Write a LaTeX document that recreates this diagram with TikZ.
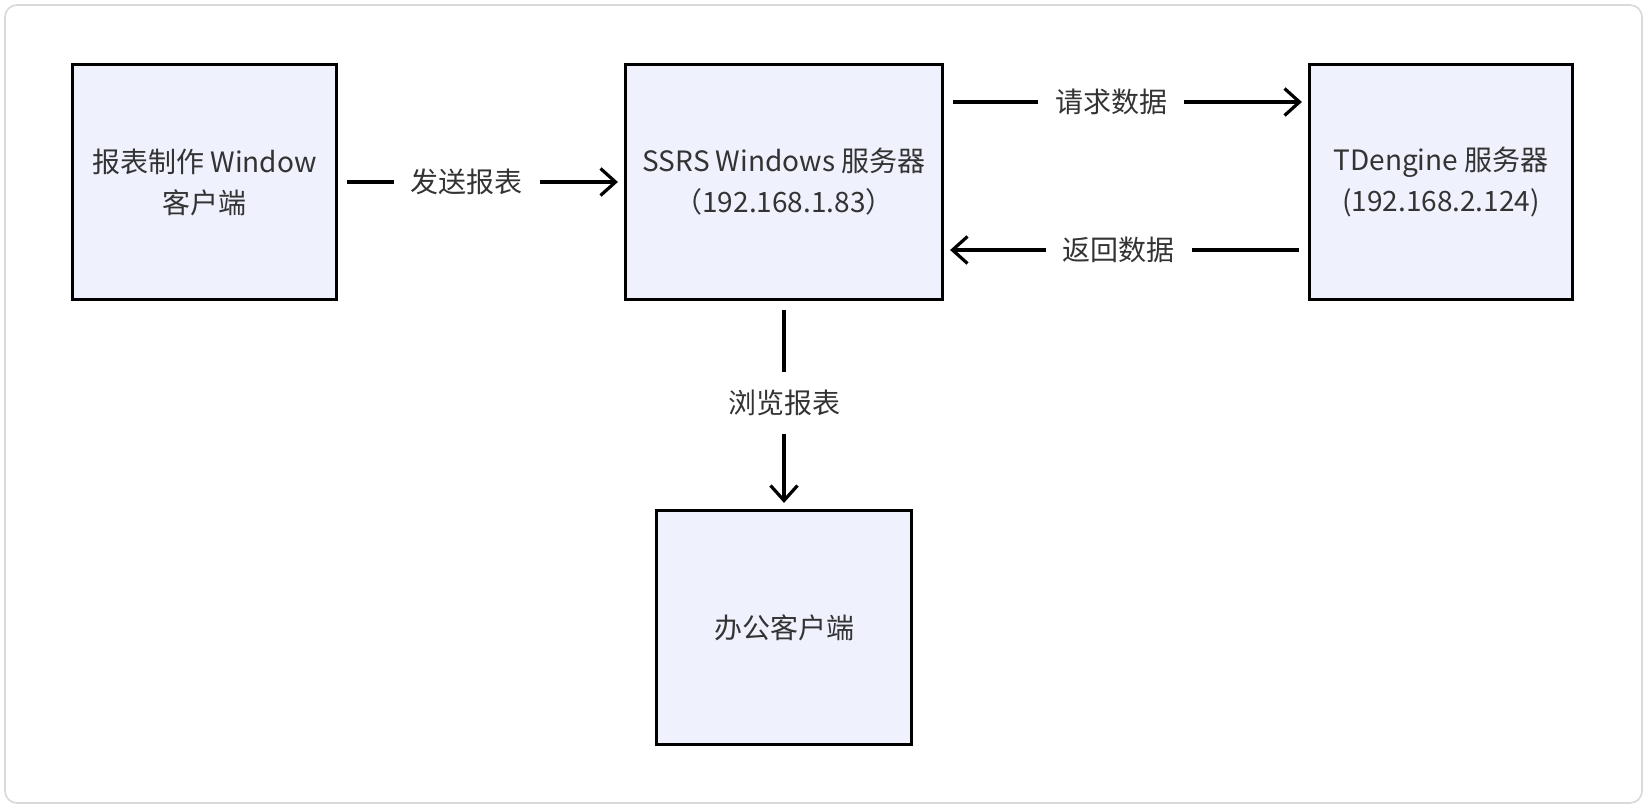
\documentclass[tikz,border=0pt]{standalone}
\usepackage{fontspec}
\setmainfont{Noto Sans CJK SC}
\usetikzlibrary{arrows.meta}
\definecolor{boxfill}{RGB}{239,241,253}
\definecolor{txt}{RGB}{51,51,51}
\begin{document}
\begin{tikzpicture}[x=0.5pt,y=-0.5pt,%
% common options for the boxes:
box/.style = {draw, line width=1.6pt, fill=boxfill, align=center, text=txt,
            font=\fontsize{14pt}{20.5pt}\selectfont, inner sep=0},
% common options for the arrows:
link/.style = {line width=1.6pt, -{Straight Barb[length=7.5pt,width=13.5pt]},
            shorten <=4.5pt, shorten >=3pt},
% common options for the labels on the arrows:
tag/.style = {fill=white, text=txt, font=\fontsize{14pt}{17pt}\selectfont,
            inner xsep=8.5pt, inner ysep=9pt}]
\useasboundingbox (0,0) rectangle (1648,808);
\draw[black!15, line width=0.8pt, rounded corners=6pt] (5,5) rectangle (1642,803);
\node[box,minimum width=132pt,minimum height=117.5pt] (W0) at (204.5,182) {报表制作 Window\\客户端};
\node[box,minimum width=158.5pt,minimum height=117.5pt] (S0) at (784,182) {SSRS Windows 服务器\\（192.168.1.83）};
\node[box,minimum width=131.5pt,minimum height=117.5pt] (T0) at (1441,182) {TDengine 服务器\\(192.168.2.124)};
\node[box,minimum width=127.5pt,minimum height=117pt] (K0) at (784,627.5) {办公客户端};
\draw[link] (W0.east) -- node[tag,pos=0.45] {发送报表} (S0.west);
\draw[link] ([yshift=40pt]S0.east) -- node[tag,pos=0.46] {请求数据} ([yshift=40pt]T0.west);
\draw[link] ([yshift=-34pt]T0.west) -- node[tag,pos=0.52] {返回数据} ([yshift=-34pt]S0.east);
\draw[link] (S0.south) -- node[tag,pos=0.49] {浏览报表} (K0.north);
\end{tikzpicture}
\end{document}
